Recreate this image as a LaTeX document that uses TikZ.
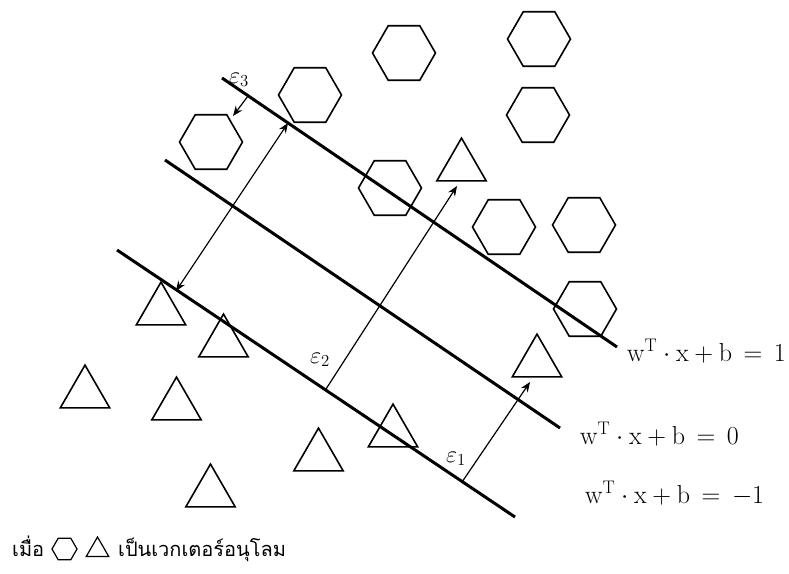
\RequirePackage{fix-cm}
\documentclass[tikz,border=0pt]{standalone}
\usepackage{fontspec}
\newfontfamily\thaifont[Script=Thai]{Loma}
\usetikzlibrary{shapes.geometric,arrows.meta}
\begin{document}
\begin{tikzpicture}[x=1pt,y=-1pt,
  hex/.style={regular polygon,regular polygon sides=6,draw,line width=1.6pt,minimum size=63pt,inner sep=0pt},
  tri/.style={regular polygon,regular polygon sides=3,draw,line width=1.6pt,minimum size=57pt,inner sep=0pt},
  sepline/.style={line width=3pt},
  arr/.style={line width=1.2pt,-{Stealth[length=10pt,width=8pt]}},
  darr/.style={line width=1.2pt,{Stealth[length=10pt,width=8pt]}-{Stealth[length=10pt,width=8pt]}},
  eqlab/.style={anchor=base west,font=\fontsize{26}{30}\selectfont,inner sep=0pt},
  epslab/.style={font=\fontsize{24}{27}\selectfont,inner sep=0pt},
  thai/.style={anchor=base west,font=\thaifont\fontsize{20}{24}\selectfont,inner sep=0pt}]
\useasboundingbox (0,0) rectangle (789,573);
% hexagons
\node[hex] (h1) at (404,53) {};
\node[hex] (h2) at (539,39) {};
\node[hex] (h3) at (538,115) {};
\node[hex] (h4) at (310,95) {};
\node[hex] (h5) at (211,142) {};
\node[hex] (h6) at (390,188) {};
\node[hex] (h7) at (504,227) {};
\node[hex] (h8) at (584,225) {};
\node[hex] (h9) at (585,309) {};
% triangles
\node[tri] (t1) at (461.5,166.6) {};
\node[tri] (t2) at (161,310.6) {};
\node[tri] (t3) at (223.5,342.6) {};
\node[tri] (t4) at (85,393.6) {};
\node[tri] (t5) at (176.5,405.6) {};
\node[tri] (t6) at (318.5,456.6) {};
\node[tri] (t7) at (393,432.6) {};
\node[tri] (t8) at (537,362.6) {};
\node[tri] (t9) at (210.5,492.6) {};
% separating lines
\coordinate (l1a) at (222,78); \coordinate (l1b) at (617,347);
\coordinate (l2a) at (165,160); \coordinate (l2b) at (560,428);
\coordinate (l3a) at (117,250); \coordinate (l3b) at (515,517);
\draw[sepline] (l1a) -- (l1b);
\draw[sepline] (l2a) -- (l2b);
\draw[sepline] (l3a) -- (l3b);
% arrows
\coordinate (e3s) at (248,96); \coordinate (e3e) at (233,116);
\coordinate (da) at (288,123); \coordinate (db) at (176,291);
\coordinate (e2s) at (326,389); \coordinate (e2e) at (457,186);
\coordinate (e1s) at (462,482); \coordinate (e1e) at (530,382);
\draw[arr] (e3s) -- (e3e);
\draw[darr] (da) -- (db);
\draw[arr] (e2s) -- (e2e);
\draw[arr] (e1s) -- (e1e);
% epsilon labels
\node[epslab] (eps3) at (239,80) {$\varepsilon_3$};
\node[epslab] (eps2) at (320,360) {$\varepsilon_2$};
\node[epslab] (eps1) at (456,459) {$\varepsilon_1$};
% equation labels
\node[eqlab] (q1) at (627,361) {$\mathrm{w}^{\mathrm{T}}\cdot\mathrm{x}+\mathrm{b}\,=\,1$};
\node[eqlab] (q2) at (580,444) {$\mathrm{w}^{\mathrm{T}}\cdot\mathrm{x}+\mathrm{b}\,=\,0$};
\node[eqlab] (q3) at (585,503) {$\mathrm{w}^{\mathrm{T}}\cdot\mathrm{x}+\mathrm{b}\,=\,-1$};
% legend
\node[thai] (when) at (12,556) {เมื่อ};
\node[regular polygon,regular polygon sides=6,draw,line width=1.2pt,minimum size=25pt,inner sep=0pt] (lh) at (64.5,549) {};
\node[regular polygon,regular polygon sides=3,draw,line width=1.2pt,minimum size=26pt,inner sep=0pt] (lt) at (97.5,550) {};
\node[thai] (desc) at (118,556) {เป็นเวกเตอร์อนุโลม};
\end{tikzpicture}
\end{document}
